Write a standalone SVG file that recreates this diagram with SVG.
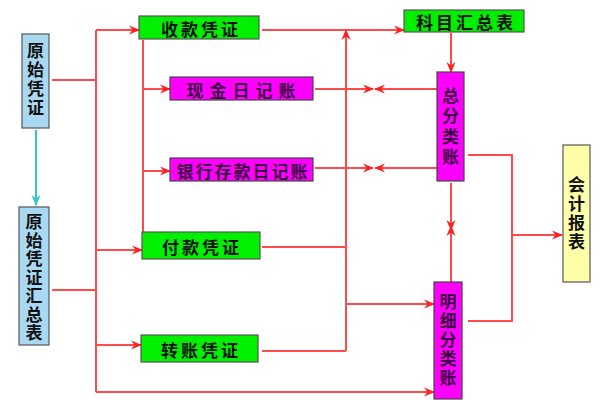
<svg xmlns="http://www.w3.org/2000/svg" width="600" height="400" viewBox="0 0 600 400">
<style>
.t{font-family:"Noto Sans CJK SC","Noto Sans",sans-serif;font-size:17px;font-weight:bold;fill:#111;text-anchor:middle;dominant-baseline:central}
.v{writing-mode:vertical-rl;text-orientation:upright}
.tm{fill:#3a0040}
.g{fill:#00f000;stroke:#555;stroke-width:1.2}
.m{fill:#ff00ff;stroke:#444;stroke-width:1.2}
.b{fill:#a9d9f2;stroke:#555;stroke-width:1.2}
.y{fill:#ffffaa;stroke:#555;stroke-width:1.2}
.l{fill:none;stroke:#ff4a4a;stroke-width:2}
.la{fill:none;stroke:#ff4a4a;stroke-width:2;marker-end:url(#ar)}
</style>
<defs>
<marker id="ar" viewBox="0 0 12 10" refX="11" refY="5" markerWidth="11" markerHeight="10" markerUnits="userSpaceOnUse" orient="auto">
<path d="M0,0 L12,5 L0,10 L4,5 z" fill="#ff2020"/>
</marker>
<marker id="arc" viewBox="0 0 12 10" refX="11" refY="5" markerWidth="11" markerHeight="10" markerUnits="userSpaceOnUse" orient="auto">
<path d="M0,0 L12,5 L0,10 L4,5 z" fill="#30c8c8"/>
</marker>
</defs>
<rect width="600" height="400" fill="#fff"/>

<g id="connectors">
<line x1="36" y1="130" x2="36" y2="205" stroke="#30c8c8" stroke-width="2" marker-end="url(#arc)"/>
<path class="l" d="M52,80 H96 M52,290 H96 M96,30 V392"/>
<path class="la" d="M96,30 H139"/>
<path class="la" d="M96,250 H142"/>
<path class="la" d="M96,345 H141"/>
<path class="la" d="M96,392 H434"/>
<path class="l" d="M143,40 V232"/>
<path class="la" d="M143,89 H170"/>
<path class="la" d="M143,171 H170"/>
<path class="la" d="M262,30 H404"/>
<path class="la" d="M346,351 V30"/>
<path class="l" d="M262,247 H346 M262,351 H346"/>
<path class="la" d="M346,304 H434"/>
<path class="la" d="M451,33 V72"/>
<path class="la" d="M315,89 H373"/>
<path class="la" d="M437,89 H375"/>
<path class="la" d="M315,168 H373"/>
<path class="la" d="M437,168 H375"/>
<path class="la" d="M451,183 V230"/>
<path class="la" d="M451,282 V226"/>
<path class="l" d="M468,155 H512 V321 H468"/>
<path class="la" d="M512,235 H562"/>
</g>

<g id="yuanshi">
<rect class="b" x="22" y="34" width="27" height="94"/>
<text class="t v" x="35.5" y="80" letter-spacing="2">原始凭证</text>
</g>

<g id="huizong">
<rect class="b" x="19" y="207" width="30" height="138"/>
<text class="t v" x="34" y="278" letter-spacing="1.5">原始凭证汇总表</text>
</g>

<g id="shoukuan">
<rect class="g" x="139" y="16" width="120" height="23"/>
<text class="t" x="201" y="28" letter-spacing="3">收款凭证</text>
</g>

<g id="xianjin">
<rect class="m" x="170" y="77" width="143" height="23"/>
<text class="t tm" x="244" y="89" letter-spacing="6">现金日记账</text>
</g>

<g id="yinhang">
<rect class="m" x="170" y="158" width="143" height="23"/>
<text class="t tm" x="243" y="170" letter-spacing="2">银行存款日记账</text>
</g>

<g id="fukuan">
<rect class="g" x="142" y="232" width="118" height="27"/>
<text class="t" x="202" y="246" letter-spacing="3">付款凭证</text>
</g>

<g id="zhuanzhang">
<rect class="g" x="141" y="335" width="117" height="27"/>
<text class="t" x="201" y="349" letter-spacing="3">转账凭证</text>
</g>

<g id="kemu">
<rect class="g" x="404" y="10" width="120" height="22"/>
<text class="t" x="466" y="21" letter-spacing="3">科目汇总表</text>
</g>

<g id="zongfen">
<rect class="m" x="437" y="72" width="27" height="109"/>
<text class="t tm v" x="450.5" y="128" letter-spacing="3.5">总分类账</text>
</g>

<g id="mingxi">
<rect class="m" x="434" y="282" width="28" height="117"/>
<text class="t tm v" x="448" y="341" letter-spacing="2">明细分类账</text>
</g>

<g id="baobiao">
<rect class="y" x="563" y="145" width="27" height="137"/>
<text class="t v" x="576.5" y="214" letter-spacing="2">会计报表</text>
</g>
</svg>
